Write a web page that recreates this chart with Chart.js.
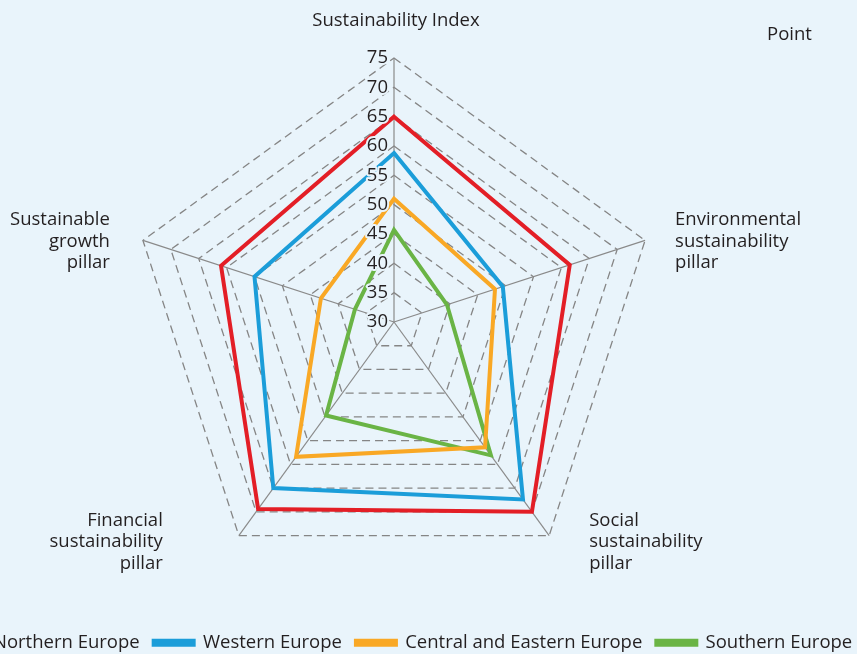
<!DOCTYPE html>
<html>
<head>
<meta charset="utf-8">
<script src="https://cdn.jsdelivr.net/npm/chart.js@4"></script>
<style>
  html, body { margin: 0; padding: 0; width: 857px; height: 654px; overflow: hidden; background: #e9f4fb; }
  #wrap { position: absolute; left: -152px; top: 0; width: 1100px; height: 666px; }
</style>
</head>
<body>
<div id="wrap"><canvas id="myChart"></canvas></div>
<script>
let axisLabels = [
  ['Sustainability Index'],
  ['Environmental', 'sustainability', 'pillar'],
  ['Social', 'sustainability', 'pillar'],
  ['Financial', 'sustainability', 'pillar'],
  ['Sustainable', 'growth', 'pillar']
];
let seriesNames = ['Northern Europe', 'Western Europe', 'Central and Eastern Europe', 'Southern Europe'];
let northern = [65, 61.5, 70, 69.4, 61];
let western = [58.8, 49.5, 67.4, 65, 55];
let central = [51, 48.1, 56.4, 58.4, 43.1];
let southern = [45.7, 39.5, 58.1, 49.7, 37];
let colors = ['#e31e26', '#1b9dd9', '#f9a825', '#6ab445'];
let unitLabel = 'Point';

let bg = '#e9f4fb';
let textColor = '#231f20';
let font = '"Open Sans", sans-serif';

// labels around the web and numbers on the top axis, drawn on the scale's own geometry
let labelPlugin = {
  id: 'webLabels',
  afterDatasetsDraw(chart) {
    let ctx = chart.ctx;
    let s = chart.scales.r;
    ctx.save();
    ctx.font = '18.5px ' + font;
    ctx.textAlign = 'right';
    ctx.textBaseline = 'middle';
    ctx.lineJoin = 'round';
    s.ticks.forEach(t => {
      let y = s.yCenter - s.getDistanceFromCenterForValue(t.value);
      ctx.strokeStyle = bg;
      ctx.lineWidth = 4;
      ctx.strokeText(t.label, s.xCenter - 6, y);
      ctx.fillStyle = textColor;
      ctx.fillText(t.label, s.xCenter - 6, y);
    });

    ctx.fillStyle = textColor;
    ctx.textBaseline = 'alphabetic';
    let place = [
      { dx: 2, dy: -32, align: 'center' },
      { dx: 30, dy: -15, align: 'left' },
      { dx: 40, dy: -10, align: 'left' },
      { dx: -76, dy: -10, align: 'right' },
      { dx: -33, dy: -15, align: 'right' }
    ];
    axisLabels.forEach((lines, i) => {
      let p = s.getPointPosition(i, s.drawingArea);
      ctx.textAlign = place[i].align;
      lines.forEach((line, k) => {
        ctx.fillText(line, p.x + place[i].dx, p.y + place[i].dy + k * 21.5);
      });
    });
    ctx.textAlign = 'left';
    ctx.fillText(unitLabel, s.xCenter + 373, 40);
    ctx.restore();
  }
};

let myChart = document.getElementById('myChart').getContext('2d');

let chart1 = new Chart(myChart, {
  type: 'radar',
  data: {
    labels: axisLabels,
    datasets: [
      { label: seriesNames[0], data: northern, borderColor: colors[0], backgroundColor: colors[0] },
      { label: seriesNames[1], data: western, borderColor: colors[1], backgroundColor: colors[1] },
      { label: seriesNames[2], data: central, borderColor: colors[2], backgroundColor: colors[2] },
      { label: seriesNames[3], data: southern, borderColor: colors[3], backgroundColor: colors[3] }
    ]
  },
  options: {
    responsive: true,
    maintainAspectRatio: false,
    animation: false,
    layout: { padding: { bottom: 4 } },
    elements: {
      line: { borderWidth: 4, fill: false, tension: 0, borderJoinStyle: 'miter' },
      point: { radius: 0, hoverRadius: 0 }
    },
    scales: {
      r: {
        min: 30,
        max: 75,
        ticks: { stepSize: 5, display: false },
        pointLabels: { display: false },
        angleLines: { color: '#8a8a8a', lineWidth: 1.2 },
        grid: { color: '#858585', lineWidth: 1.3 },
        border: { dash: [8, 5] },
        afterFit(scale) {
          scale.xCenter = 546;
          scale.yCenter = 322;
          scale.drawingArea = 264;
        }
      }
    },
    plugins: {
      tooltip: { enabled: false },
      legend: {
        position: 'bottom',
        labels: {
          color: textColor,
          font: { family: font, size: 18.5 },
          boxWidth: 40,
          boxHeight: 4,
          padding: 14
        }
      }
    }
  },
  plugins: [labelPlugin]
});
</script>
</body>
</html>
